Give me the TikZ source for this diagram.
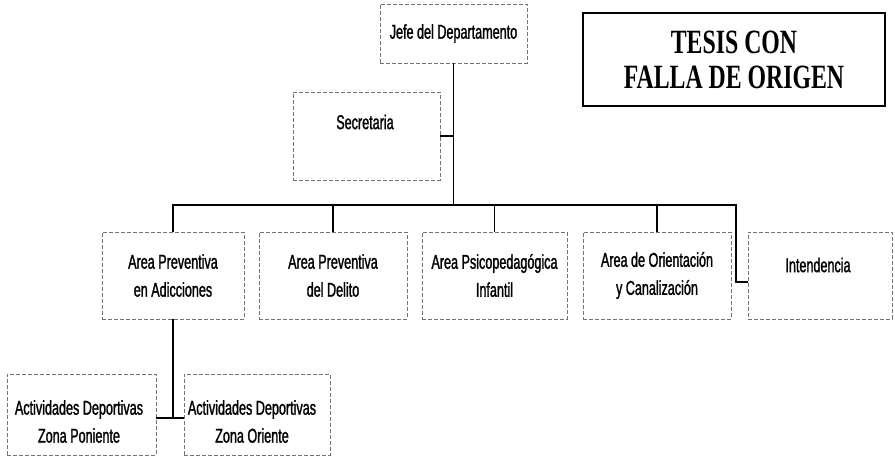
\documentclass[tikz,border=0pt]{standalone}
\usepackage{fontspec}
\setmainfont{Liberation Sans}[FakeStretch=0.63,FakeBold=1.3]
\newfontfamily\tesisfont{Liberation Serif Bold}[FakeStretch=0.7]
\begin{document}
\begin{tikzpicture}[x=1pt,y=-1pt,
  box/.style={draw=black!55, dash pattern=on 4pt off 2pt, line width=0.9pt, rectangle, inner sep=0pt, align=center, font=\fontsize{20}{28}\selectfont},
  txt/.style={align=center, font=\fontsize{20}{28}\selectfont, inner sep=0pt},
  conn/.style={draw=black, line width=1.4pt},
  stamp/.style={draw=black, line width=1.6pt, rectangle, inner sep=0pt, align=center, font=\tesisfont\fontsize{34}{35}\selectfont}]
\useasboundingbox (0,0) rectangle (895,463);
% stamp
\node[stamp, minimum width=302pt, minimum height=93pt] (tesis) at (734,59.5) {TESIS CON\\FALLA DE ORIGEN};
% top
\node[box, minimum width=147pt, minimum height=59pt] (jefe) at (453.5,33.5) {Jefe del Departamento};
\node[box, minimum width=147pt, minimum height=88pt] (sec) at (366.5,136) {};
\node[txt] (sect) at (365,122) {Secretaria};
% row 2
\node[box, minimum width=142pt, minimum height=87pt] (a1) at (173,275.5) {Area Preventiva\\en Adicciones};
\node[box, minimum width=148pt, minimum height=87pt] (a2) at (333,275.5) {Area Preventiva\\del Delito};
\node[box, minimum width=145pt, minimum height=87pt] (a3) at (494.5,275.5) {Area Psicopedagógica\\Infantil};
\node[box, minimum width=148pt, minimum height=87pt] (a4) at (657,275.5) {Area de Orientación\\y Canalización};
\node[box, minimum width=144pt, minimum height=87pt] (a5) at (820,275.5) {};
\node[txt] (a5t) at (818,265) {Intendencia};
% row 3
\node[box, minimum width=149pt, minimum height=81pt] (pon) at (81.5,414.5) {};
\node[txt] (pont) at (79,421.5) {Actividades Deportivas\\Zona Poniente};
\node[box, minimum width=146pt, minimum height=81pt] (ori) at (257,414.5) {};
\node[txt] (orit) at (252,421.5) {Actividades Deportivas\\Zona Oriente};
% connectors
\coordinate (busR) at (736,205);
\coordinate (sub) at (173,418);
\draw[conn] (jefe.south) -- (jefe.south |- busR);
\draw[conn] (sec.east) -- (sec.east -| jefe.south);
\draw[conn] (a1.north) |- (busR) |- ([yshift=-6.5pt]a5.west);
\draw[conn] (a2.north) -- (a2.north |- busR);
\draw[conn] (a3.north) -- (a3.north |- busR);
\draw[conn] (a4.north) -- (a4.north |- busR);
\draw[conn] (a1.south) -- (sub);
\draw[conn] (pon.east |- sub) -- (ori.west |- sub);
\end{tikzpicture}
\end{document}
